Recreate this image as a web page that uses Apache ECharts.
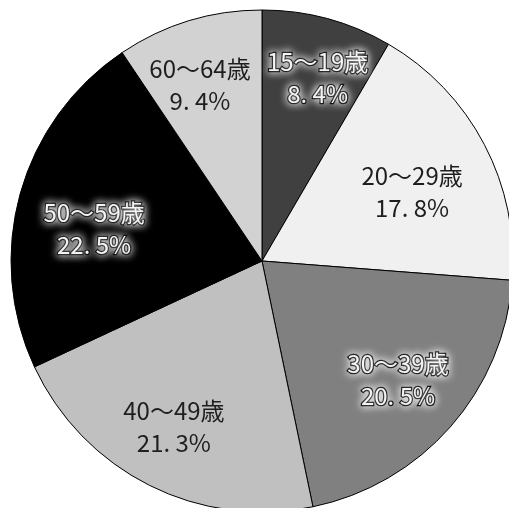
<!DOCTYPE html>
<html>
<head>
<meta charset="utf-8">
<script src="https://cdn.jsdelivr.net/npm/echarts@6/dist/echarts.min.js"></script>
<style>
html,body{margin:0;padding:0;background:#fff;}
#main{width:509px;height:508px;}
</style>
</head>
<body>
<div id="main"></div>
<script>
var categories = ['15～19歳', '20～29歳', '30～39歳', '40～49歳', '50～59歳', '60～64歳'];
var shares = [8.4, 17.8, 20.5, 21.3, 22.5, 9.4];
var sliceColors = ['#404040', '#f0f0f0', '#808080', '#c0c0c0', '#000000', '#d2d2d2'];
var darkSlice = [true, false, true, false, true, false];
var labelOffsets = [[9, -11], [-8, 14], [2, 1], [-8, 6], [4, 16], [-10, -5]];

var center = [262, 261];
var R = 251;

function fmt(p) {
  return p.name + '\n' + p.value.toFixed(1).replace('.', '. ') + '%';
}

var pieData = categories.map(function (c, i) {
  return { name: c, value: shares[i], itemStyle: { color: sliceColors[i] } };
});

var labelData = categories.map(function (c, i) {
  var dark = darkSlice[i];
  return {
    name: c,
    value: shares[i],
    label: dark ? {
      color: '#f4f4f4',
      textBorderColor: '#000000',
      textBorderWidth: 2.5,
      textShadowColor: 'rgba(255,255,255,0.95)',
      textShadowBlur: 8,
      offset: labelOffsets[i]
    } : {
      color: '#1e1e1e',
      offset: labelOffsets[i]
    }
  };
});

var chart = echarts.init(document.getElementById('main'));
chart.setOption({
  backgroundColor: '#ffffff',
  animation: false,
  series: [
    {
      type: 'pie',
      center: center,
      radius: [0, R],
      startAngle: 90,
      clockwise: true,
      silent: true,
      label: { show: false },
      labelLine: { show: false },
      itemStyle: { borderColor: '#000000', borderWidth: 1 },
      data: pieData
    },
    {
      type: 'pie',
      center: center,
      radius: [100, R],
      startAngle: 90,
      clockwise: true,
      silent: true,
      itemStyle: { color: 'rgba(0,0,0,0)', borderWidth: 0 },
      labelLine: { show: false },
      label: {
        show: true,
        position: 'inside',
        formatter: fmt,
        fontFamily: '"Noto Sans CJK JP", sans-serif',
        fontSize: 24,
        lineHeight: 32,
        align: 'center'
      },
      data: labelData
    }
  ]
});
</script>
</body>
</html>
